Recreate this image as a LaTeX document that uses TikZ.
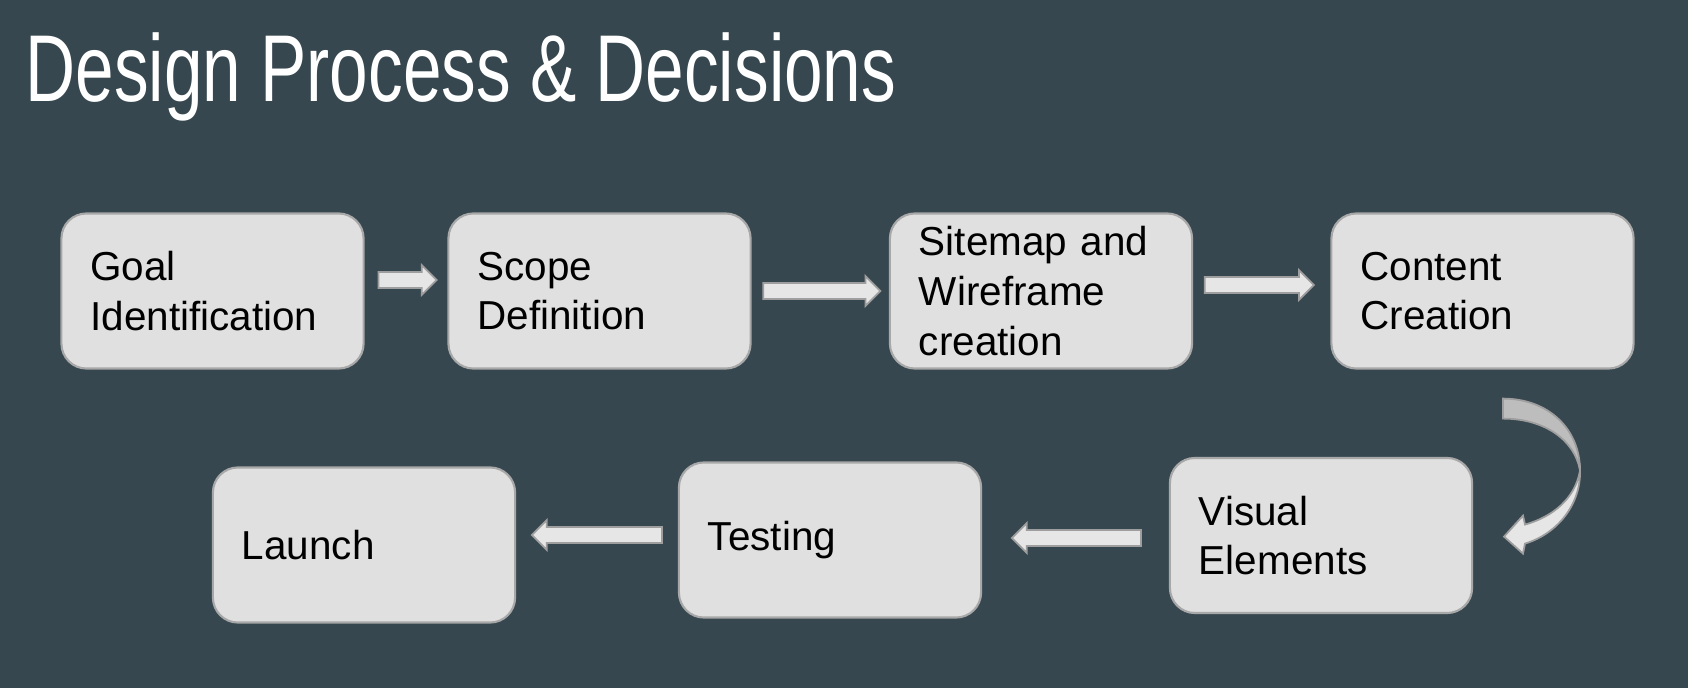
\documentclass[tikz,border=0pt]{standalone}
\usepackage{fontspec}
\setmainfont{Liberation Sans}
\usepackage{graphicx}
\usepackage{tikz}
\usetikzlibrary{shapes.arrows,calc}

\definecolor{slate}{HTML}{37474F}
\definecolor{boxfill}{HTML}{E0E0E0}
\definecolor{boxline}{HTML}{A8A8A8}
\definecolor{arrowfill}{HTML}{E6E6E6}
\definecolor{arrowline}{HTML}{9E9E9E}
\definecolor{arrowdark}{HTML}{BDBDBD}

\begin{document}
\begin{tikzpicture}[x=0.01cm,y=-0.01cm,
    stage/.style={draw=boxline,fill=boxfill,rounded corners=2.5mm,line width=0.6pt,
      minimum width=30.2mm,minimum height=15.5mm,text width=24.4mm,inner xsep=2.9mm,
      align=left,font=\fontsize{11.5}{14.1}\selectfont},
    blockarrow/.style={single arrow,draw=arrowline,fill=arrowfill,line width=0.5pt,
      inner xsep=0pt,inner ysep=0.72mm,single arrow head extend=0.68mm,
      single arrow tip angle=90}]
    % Background
    \fill[slate] (0,0) rectangle (1688,688);
    % Title
    \node[anchor=base west,inner sep=0pt,text=white,font=\fontsize{27}{30}\selectfont] (title) at (25,102)
      {\scalebox{0.73}[1]{Design Process \& Decisions}};
    % Top row
    \node at (212.5,291) [stage] (goal) {Goal\\Identification};
    \node at (599.5,291) [stage] (scope) {Scope\\Definition};
    \node at (1041,291) [stage] (sitemap) {Sitemap and\\Wireframe\\creation};
    \node at (1482.5,291) [stage] (content) {Content\\Creation};
    % Bottom row
    \node at (1321,535.5) [stage] (visual) {Visual\\Elements};
    \node at (830,540) [stage] (testing) {Testing};
    \node at (364,545) [stage] (launch) {Launch};
    % Straight arrows
    \path ([shift={(11,-11)}]goal.east) -- ([shift={(-16,-11)}]scope.west)
      node[midway,blockarrow,minimum height=5.8mm] (a1) {};
    \path ([shift={(9,0)}]scope.east) -- ([shift={(-14,0)}]sitemap.west)
      node[midway,blockarrow,minimum height=11.7mm] (a2) {};
    \path ([shift={(9,-6)}]sitemap.east) -- ([shift={(-22,-6)}]content.west)
      node[midway,blockarrow,minimum height=10.9mm] (a3) {};
    \path ([shift={(-25,2.5)}]visual.west) -- ([shift={(35,-2)}]testing.east)
      node[midway,blockarrow,shape border rotate=180,minimum height=12.9mm] (a5) {};
    \path ([shift={(-13,-5)}]testing.west) -- ([shift={(21,-10)}]launch.east)
      node[midway,blockarrow,shape border rotate=180,minimum height=13mm] (a6) {};
    % Curved arrow from content to visual
    \coordinate (bend) at ([shift={(20.5,29)}]content.south);
    \begin{scope}[shift={(bend)}]
      \filldraw[fill=arrowdark,draw=arrowline,line width=0.5pt]
        (0,0) .. controls (45,0) and (77,30) .. (77,72)
        .. controls (72,42) and (42,20) .. (0,20) -- cycle;
      \filldraw[fill=arrowfill,draw=arrowline,line width=0.5pt]
        (77,72) .. controls (78,105) and (55,135) .. (22,145)
        -- (20,155) -- (1,138) -- (20,117) -- (22,126)
        .. controls (50,118) and (72,100) .. (77,72) -- cycle;
    \end{scope}
\end{tikzpicture}
\end{document}
